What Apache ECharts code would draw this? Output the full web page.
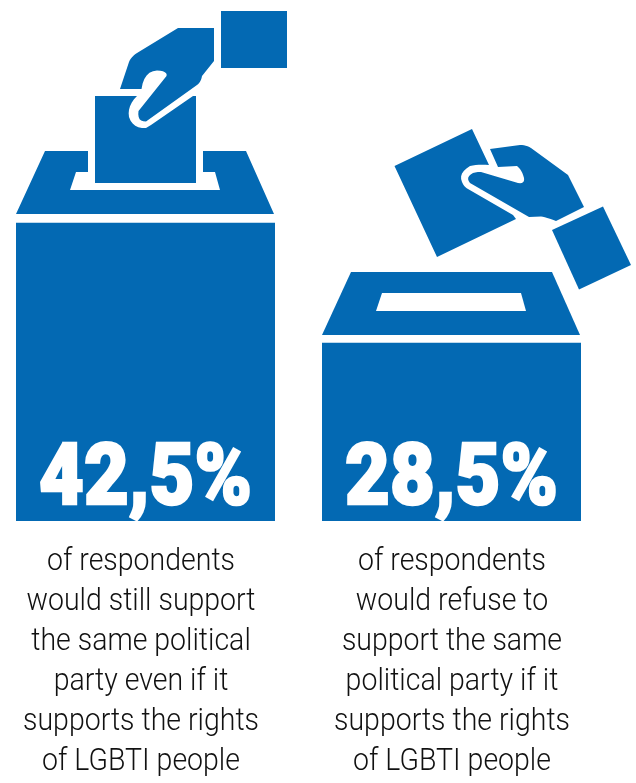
<!DOCTYPE html>
<html>
<head>
<meta charset="utf-8">
<style>html,body{margin:0;padding:0;background:#fff}#chart{width:636px;height:783px}</style>
<script src="https://cdn.jsdelivr.net/npm/echarts@6/dist/echarts.min.js"></script>
</head>
<body>
<div id="chart"></div>
<script>
// Survey results
const categories = ['Would still support', 'Would refuse to support'];
const shares = [42.5, 28.5];
const captions = [
  'of respondents\nwould still support\nthe same political\nparty even if it\nsupports the rights\nof LGBTI people',
  'of respondents\nwould refuse to\nsupport the same\npolitical party if it\nsupports the rights\nof LGBTI people'
];

const BLUE = '#0369b3';
const AXIS_MIN = 7.7;

// Samples a quadratic curve so rounded corners can live inside a polygon outline.
function q(p0, c, p1, n = 6) {
  const out = [];
  for (let i = 1; i <= n; i++) {
    const t = i / n, u = 1 - t;
    out.push([u * u * p0[0] + 2 * u * t * c[0] + t * t * p1[0],
              u * u * p0[1] + 2 * u * t * c[1] + t * t * p1[1]]);
  }
  return out;
}

// Ballot-box pictograms
const leftIcon = [
  // voter's sleeve
  [[221, 11], [287, 11], [287, 68], [221, 68]],
  // hand
  [[120, 89], [141.5, 89], ...q([141.5, 89], [144, 71], [157, 70.5]), ...q([157, 70.5], [168, 71], [166.5, 76]),
   [138.5, 111], ...q([138.5, 111], [137, 122], [146, 121.5]),
   [197, 85], ...q([197, 85], [201, 82], [202, 76]), [214, 61], [214, 28], [178, 28], [137, 53],
   ...q([137, 53], [131, 57], [129, 62])],
  // ballot going into the slot
  [[95, 96], [137, 96], ...q([137, 96], [127, 106], [129, 117]), ...q([129, 117], [133, 129], [146, 128]),
   [151, 125], [193, 96], [196, 96], [196, 183], [95, 183]],
  // lid with the ballot opening cut out
  [[16, 214], [45, 151], [88, 151], [88, 172], [76, 172], [70, 190], [220, 190], [215, 172], [203, 172],
   [203, 151], [246, 151], [274, 214]]
];
const rightIcon = [
  // voter's sleeve
  [[552, 230], [603, 206.5], [631, 265], [579, 289.5]],
  // hand
  [[490, 149], [520, 145], ...q([520, 145], [526, 145], [531, 148]), [568, 175], [584, 207], [556, 221],
   ...q([556, 221], [546, 217], [541, 216.5]), [529, 217], [470, 183], ...q([470, 183], [465, 177], [473, 173]),
   ...q([473, 173], [476, 172], [481, 172]), [518, 183], ...q([518, 183], [525, 184], [524, 178]),
   ...q([524, 178], [522, 170], [517, 166]), [498, 167]],
  // ballot held above the box
  [[394.5, 166], [472, 129], [489, 165], ...q([489, 165], [478, 164], [470, 166]), ...q([470, 166], [458, 173], [462, 182]),
   ...q([462, 182], [464, 187], [468, 189]), [513, 215], [516, 219], [437, 257]],
  // lid
  [[322, 335], [351, 272], [552, 272], [580, 335]]
];

const icons = leftIcon.concat(rightIcon).map(points => ({
  type: 'polygon',
  shape: { points },
  style: { fill: BLUE }
}));

// Slot on the closed box
icons.push({
  type: 'polygon',
  shape: { points: [[376, 311], [382, 293], [521, 293], [526, 311]] },
  style: { fill: '#fff' },
  z: 5
});

// Explanatory text below each box, narrowed to the condensed look of the layout
const captionText = captions.map((text, i) => ({
  type: 'text',
  x: [141, 452][i],
  y: 542,
  scaleX: 0.89,
  style: {
    text,
    fill: '#111',
    font: '300 32px Roboto',
    lineHeight: 40,
    align: 'center',
    verticalAlign: 'top'
  }
}));

const chart = echarts.init(document.getElementById('chart'), null, { renderer: 'canvas' });
chart.setOption({
  animation: false,
  grid: { left: -7.5, width: 612, top: 0, height: 521, outerBoundsMode: 'none' },
  xAxis: { type: 'category', data: categories, show: false },
  yAxis: { type: 'value', min: AXIS_MIN, max: 68.48, show: false },
  graphic: { elements: icons.concat(captionText) },
  series: [{
    type: 'bar',
    data: shares,
    barWidth: 259,
    itemStyle: { color: BLUE }
  }, {
    // Percentage printed inside the foot of each bar
    type: 'custom',
    data: shares,
    z: 10,
    renderItem(params, api) {
      const base = api.coord([params.dataIndex, AXIS_MIN]);
      return {
        type: 'text',
        x: base[0],
        y: base[1] - 38,
        scaleX: 0.91,
        style: {
          text: api.value(1).toFixed(1).replace('.', ',') + '%',
          fill: '#fff',
          stroke: '#fff',
          lineWidth: 2.5,
          font: '900 85px Roboto',
          align: 'center',
          verticalAlign: 'middle'
        }
      };
    }
  }]
});
</script>
</body>
</html>
